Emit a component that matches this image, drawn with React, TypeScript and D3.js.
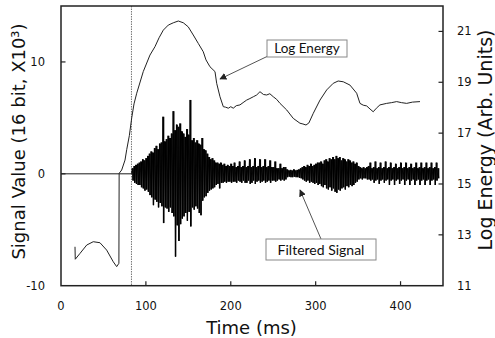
import React from 'react';
import * as d3 from 'd3';

const xTicks = [0, 100, 200, 300, 400];
const leftTicks = [-10, 0, 10];
const rightTicks = [11, 13, 15, 17, 19, 21];

const onsetTime = 83;

const energyTime = [
  16.5, 16.8, 22.4, 30.3, 38.0, 45.9, 53.8, 61.6, 65.6, 68.2, 68.5, 71.5, 75.4, 77.4, 80.5, 83.3, 86.0, 89.2,
  96.9, 104.8, 110.7, 115.5, 120.5, 126.4, 132.3, 138.2, 144.1, 149.9, 155.8, 161.7, 167.6, 170.8, 175.5,
  181.4, 183.4, 187.3, 191.2, 194.0, 197.1, 200.0, 202.9, 206.5, 210.8, 214.5, 218.7, 222.5, 226.5, 230.5,
  234.4, 238.5, 242.3, 246.0, 250.1, 254.0, 258.0, 265.9, 273.6, 281.5, 285.0, 288.6, 292.0, 297.2, 305.1,
  313.0, 320.7, 326.5, 332.5, 340.4, 348.3, 352.2, 356.0, 360.1, 364.0, 367.8, 371.5, 375.7, 383.6, 389.5,
  395.4, 401.0, 407.2, 414.0, 422.9,
];
const energyValue = [
  12.53, 12.04, 12.27, 12.6, 12.73, 12.69, 12.4, 11.94, 11.75, 11.88, 15.42, 15.55, 15.94, 16.35, 16.9, 17.6, 18.15, 18.57,
  19.42, 20.07, 20.4, 20.75, 21.05, 21.25, 21.34, 21.41, 21.34, 21.18, 20.86, 20.53, 20.2, 19.88, 19.61,
  19.42, 18.96, 18.43, 18.04, 18.02, 17.98, 18.04, 17.98, 18.08, 18.11, 18.2, 18.3, 18.36, 18.43, 18.5,
  18.63, 18.52, 18.5, 18.55, 18.43, 18.33, 18.17, 17.91, 17.58, 17.39, 17.36, 17.32, 17.4, 17.78, 18.3,
  18.7, 18.96, 19.05, 19.02, 18.89, 18.57, 18.17, 18.1, 18.07, 17.95, 17.84, 17.98, 18.11, 18.17, 18.2,
  18.24, 18.2, 18.17, 18.22, 18.24,
];

const signalStart = 84;
const signalStep = 2;
const signalHigh = [
  0.5, 0.7, 0.8, 0.9, 1.0, 1.1, 1.3, 1.2, 1.4, 1.6,
  1.8, 2.0, 1.9, 2.3, 2.5, 2.2, 2.7, 2.8, 5.1, 2.9,
  3.1, 3.4, 3.2, 3.6, 5.6, 3.9, 4.4, 4.2, 4.5, 3.8,
  3.6, 3.3, 4.0, 3.5, 6.6, 3.0, 3.2, 2.8, 3.0, 2.7,
  2.6, 3.2, 2.2, 2.1, 1.8, 1.5, 1.3, 1.4, 1.2, 1.0,
  1.0, 0.9, 1.0, 0.8, 0.9, 0.7, 0.8, 0.7, 0.9, 0.7,
  1.0, 0.6, 0.7, 1.1, 0.6, 0.7, 1.2, 0.6, 0.7, 1.3,
  0.6, 0.7, 1.4, 0.6, 0.7, 1.3, 0.6, 0.7, 1.3, 0.6,
  0.7, 1.2, 0.6, 0.6, 1.1, 0.5, 0.5, 0.9, 0.5, 0.6,
  0.6, 0.4, 0.3, 0.35, 0.3, 0.4, 0.3, 0.35, 0.4, 0.5,
  0.6, 0.7, 0.6, 0.8, 0.7, 0.9, 0.7, 0.8, 0.9, 1.0,
  1.0, 1.1, 0.9, 1.2, 1.3, 1.1, 1.4, 1.3, 1.5, 1.3,
  1.6, 1.4, 1.5, 1.2, 1.4, 1.3, 1.1, 1.3, 1.2, 1.0,
  1.1, 0.9, 1.0, 0.7, 0.6, 0.5, 0.6, 0.5, 0.6, 0.7,
  1.0, 0.5, 0.6, 1.1, 0.5, 0.6, 1.0, 0.5, 0.6, 1.1,
  0.5, 0.6, 1.0, 0.5, 0.6, 0.9, 0.5, 0.6, 1.0, 0.5,
  0.6, 1.0, 0.5, 0.6, 0.9, 0.5, 0.6, 1.0, 0.5, 0.6,
  1.0, 0.5, 0.6, 1.0, 0.5, 0.6, 1.0, 0.5, 0.6, 1.0, 0.5,
];
const signalLow = [
  -0.6, -0.8, -0.9, -1.0, -1.0, -1.2, -1.3, -1.5, -1.4, -1.6,
  -1.9, -2.1, -2.8, -2.3, -2.5, -3.0, -2.6, -2.9, -4.4, -3.0,
  -3.1, -3.4, -3.0, -3.5, -3.8, -7.4, -4.6, -6.0, -4.5, -4.0,
  -3.8, -3.5, -4.2, -3.4, -4.7, -3.0, -3.2, -2.9, -3.1, -3.5,
  -3.7, -2.4, -2.1, -2.0, -1.7, -1.5, -1.4, -1.3, -1.2, -1.0,
  -0.9, -1.3, -0.8, -0.8, -0.7, -0.8, -0.7, -0.7, -0.8, -0.7,
  -0.7, -0.8, -0.6, -0.7, -0.8, -0.6, -0.8, -0.8, -0.6, -0.9,
  -0.8, -0.6, -0.9, -0.7, -0.6, -0.8, -0.7, -0.6, -0.8, -0.7,
  -0.6, -0.8, -0.6, -0.6, -0.7, -0.6, -0.5, -0.6, -0.5, -0.6,
  -0.5, -0.3, -0.25, -0.3, -0.3, -0.25, -0.3, -0.3, -0.35, -0.4,
  -0.5, -0.6, -0.7, -0.6, -0.8, -0.7, -0.8, -0.9, -0.8, -1.0,
  -0.9, -1.1, -1.2, -1.0, -1.3, -1.4, -1.2, -1.5, -1.3, -1.6,
  -1.7, -1.4, -1.5, -1.3, -1.2, -1.4, -1.1, -1.2, -1.0, -1.1,
  -1.0, -0.8, -0.7, -0.5, -0.4, -0.5, -0.4, -0.4, -0.5, -0.5,
  -0.6, -0.5, -0.8, -0.6, -0.5, -0.9, -0.6, -0.5, -0.8, -0.6,
  -0.5, -1.0, -0.6, -0.5, -1.0, -0.6, -0.5, -0.9, -0.6, -0.5,
  -1.0, -0.6, -0.5, -1.0, -0.6, -0.5, -1.0, -0.6, -0.5, -1.0,
  -0.6, -0.5, -1.0, -0.6, -0.5, -1.0, -0.6, -0.5, -1.0, -0.6, -0.4,
];

const W = 495;
const H = 338;
const M = { left: 61, right: 443, top: 6, bottom: 285.7 };
const tickFont = "'DejaVu Sans', Verdana, sans-serif";
const noteFont = "Lato, 'Open Sans', sans-serif";

export default function App() {
  const x = d3.scaleLinear().domain([0, 450]).range([M.left, M.right]);
  const yL = d3.scaleLinear().domain([-10, 15]).range([M.bottom, M.top]);
  const yR = d3.scaleLinear().domain([11, 22]).range([M.bottom, M.top]);

  const sigPts: [number, number][] = [[0, 0], [onsetTime, 0]];
  signalHigh.forEach((h, i) => {
    const t = signalStart + i * signalStep;
    sigPts.push([t, h]);
    sigPts.push([t + signalStep / 2, signalLow[i]]);
  });
  const sigLine = d3.line<[number, number]>().x((d) => x(d[0])).y((d) => yL(d[1]));
  const ePts: [number, number][] = energyTime.map((t, i) => [t, energyValue[i]]);
  const eLine = d3.line<[number, number]>().x((d) => x(d[0])).y((d) => yR(d[1]));
  const binW = x(signalStep) - x(0);

  return (
    <svg width={W} height={H} style={{ position: 'absolute', left: 0, top: 0, background: '#fff' }}>
      <defs>
        <marker id="ah" viewBox="0 0 10 10" refX="9" refY="5" markerWidth="7" markerHeight="7" orient="auto-start-reverse" markerUnits="userSpaceOnUse">
          <path d="M0,0 L10,5 L0,10 z" fill="#222" />
        </marker>
      </defs>
      <rect x={0} y={0} width={W} height={H} fill="#fff" />

      {/* onset dotted line */}
      <line x1={x(onsetTime)} x2={x(onsetTime)} y1={M.top} y2={M.bottom} stroke="#777" strokeWidth={1} strokeDasharray="1.5,1" />

      {/* signal: min/max bins + trace */}
      <g fill="#000">
        {signalHigh.map((h, i) => {
          const t = signalStart + i * signalStep;
          return (
            <rect key={'b' + i} x={x(t)} y={yL(h)} width={binW * 0.85} height={yL(signalLow[i]) - yL(h)} />
          );
        })}
      </g>
      <path d={sigLine(sigPts) || ''} fill="none" stroke="#000" strokeWidth={0.9} />

      {/* log energy */}
      <path d={eLine(ePts) || ''} fill="none" stroke="#222" strokeWidth={1} />

      {/* frame */}
      <rect x={M.left} y={M.top} width={M.right - M.left} height={M.bottom - M.top} fill="none" stroke="#222" strokeWidth={1.5} />

      {/* bottom ticks */}
      {xTicks.map((t) => (
        <g key={'x' + t}>
          {t > 0 && <line x1={x(t)} x2={x(t)} y1={M.bottom} y2={M.bottom - 4.5} stroke="#222" strokeWidth={1.2} />}
          <text x={x(t)} y={310} textAnchor="middle" fontFamily={tickFont} fontSize={11.5} fill="#111">{t}</text>
        </g>
      ))}
      {/* left ticks */}
      {leftTicks.map((t) => (
        <g key={'l' + t}>
          {t > -10 && <line x1={M.left} x2={M.left + 4.5} y1={yL(t)} y2={yL(t)} stroke="#222" strokeWidth={1.2} />}
          <text x={45} y={yL(t) + 4} textAnchor="end" fontFamily={tickFont} fontSize={11.5} fill="#111">{t}</text>
        </g>
      ))}
      {/* right ticks */}
      {rightTicks.map((t) => (
        <g key={'r' + t}>
          {t > 11 && <line x1={M.right} x2={M.right - 4.5} y1={yR(t)} y2={yR(t)} stroke="#222" strokeWidth={1.2} />}
          <text x={457} y={yR(t) + 4} textAnchor="start" fontFamily={tickFont} fontSize={11.5} fill="#111">{t}</text>
        </g>
      ))}

      {/* axis titles */}
      <text x={251.5} y={334} textAnchor="middle" fontFamily={tickFont} fontSize={18} fill="#111">Time (ms)</text>
      <text transform="translate(25,141.5) rotate(-90)" textAnchor="middle" fontFamily={tickFont} fontSize={18} fill="#111">Signal Value (16 bit, X10³)</text>
      <text transform="translate(491.5,140) rotate(-90)" textAnchor="middle" fontFamily={tickFont} fontSize={19} fill="#111">Log Energy (Arb. Units)</text>

      {/* annotations */}
      <line x1={267} y1={56.5} x2={220} y2={79} stroke="#555" strokeWidth={1} markerEnd="url(#ah)" />
      <rect x={267} y={40} width={80} height={17} fill="#fff" stroke="#888" strokeWidth={1} />
      <text x={307} y={53} textAnchor="middle" fontFamily={noteFont} fontSize={13.5} fill="#111">Log Energy</text>

      <line x1={321} y1={239} x2={300} y2={190} stroke="#555" strokeWidth={1} markerEnd="url(#ah)" />
      <rect x={266} y={239} width={110} height={21} fill="#fff" stroke="#888" strokeWidth={1} />
      <text x={321} y={254.5} textAnchor="middle" fontFamily={noteFont} fontSize={14} fill="#111">Filtered Signal</text>
    </svg>
  );
}
